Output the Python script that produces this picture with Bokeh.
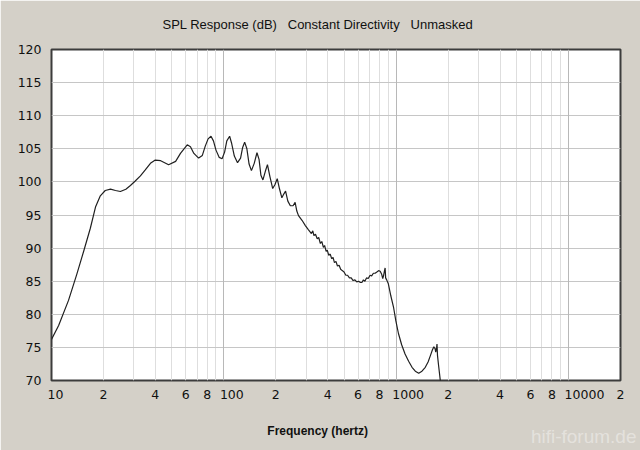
from bokeh.plotting import figure
from bokeh.models import Range1d, FixedTicker, Grid, Title
from bokeh.embed import file_html
from bokeh.resources import INLINE

# ---------------- data ----------------
freq_hz = [10, 11, 12.55, 14, 15.4, 16.8, 18.0, 19.2, 20.5, 22, 23.5, 25.1, 27,
           28.7, 30.5, 32.8, 35, 37.5, 40, 43, 47.8, 52.5, 56, 61.3, 64, 67,
           71.4, 75, 78, 81, 84.2, 87, 90, 94, 97.6, 101, 104, 108, 111, 115,
           120, 125, 128.5, 132, 136, 140, 144.5, 150, 155.6, 160, 164, 168.5,
           174, 179, 185, 192, 198, 204, 210, 217, 223, 228, 235, 243, 252,
           259, 265, 271, 284, 297, 309, 322, 328, 333, 340, 348, 355, 363,
           370, 378, 384, 392, 398, 406, 414, 422, 430, 438, 447, 456, 466,
           476, 486, 498, 510, 522, 535, 548, 562, 576, 590, 605, 620, 632,
           645, 658, 672, 688, 705, 720, 737, 754, 772, 790, 807, 822, 835,
           845, 855, 862, 868, 880, 900, 930, 964, 995, 1030, 1075, 1125,
           1180, 1235, 1290, 1350, 1410, 1474, 1530, 1580, 1620, 1653, 1680,
           1695, 1715, 1724, 1735, 1760, 1800, 1830]
spl_db = [76.2, 78.3, 82.1, 86.0, 89.6, 93.0, 96.2, 97.9, 98.7, 98.9, 98.7,
          98.55, 98.9, 99.45, 100.1, 100.9, 101.8, 102.8, 103.3, 103.2, 102.6,
          103.1, 104.3, 105.6, 105.3, 104.3, 103.6, 104.0, 105.4, 106.5, 106.9,
          106.2, 104.8, 103.7, 103.5, 104.5, 106.2, 106.9, 105.8, 103.9, 102.9,
          103.6, 105.2, 106.0, 105.0, 102.7, 101.7, 102.8, 104.4, 103.4, 101.0,
          100.3, 101.6, 102.6, 100.8, 99.0, 99.6, 100.5, 99.0, 97.6, 98.2,
          98.6, 97.1, 96.4, 96.4, 96.9, 95.6, 94.9, 94.2, 93.4, 92.8, 92.2,
          92.6, 91.9, 92.1, 91.4, 91.6, 90.7, 91.0, 90.1, 90.4, 89.5, 89.7,
          88.9, 89.1, 88.4, 88.6, 87.8, 88.0, 87.3, 87.4, 86.8, 86.6, 86.4,
          85.9, 85.9, 85.5, 85.5, 85.1, 85.2, 84.9, 85.0, 84.8, 84.8, 85.2,
          85.0, 85.5, 85.4, 85.9, 85.8, 86.2, 86.2, 86.4, 86.6, 86.5, 86.1,
          85.4, 85.9, 86.6, 87.0, 85.5, 85.2, 84.6, 82.8, 81.1, 79.0, 77.1,
          75.4, 74.0, 72.9, 72.0, 71.4, 71.1, 71.4, 72.0, 72.8, 73.8, 74.6,
          75.1, 74.8, 74.3, 75.0, 75.5, 73.8, 72.3, 70.1, 68.5]

x_tick_vals = [10, 20, 40, 60, 80, 100, 200, 400, 600, 800, 1000, 2000, 4000,
               6000, 8000, 10000, 20000]
x_tick_labels = ["10", "2", "4", "6", "8", "100", "2", "4", "6", "8", "1000",
                 "2", "4", "6", "8", "10000", "2"]
x_minor_grid = [20, 30, 40, 50, 60, 70, 80, 90, 200, 300, 400, 500, 600, 700,
                800, 900, 2000, 3000, 4000, 5000, 6000, 7000, 8000, 9000]
x_decade_grid = [100, 1000, 10000]
y_ticks = [70, 75, 80, 85, 90, 95, 100, 105, 110, 115, 120]
y_grid = [75, 80, 85, 90, 95, 100, 105, 110, 115]

title_text = "SPL Response (dB)\u00a0\u00a0\u00a0Constant Directivity\u00a0\u00a0\u00a0Unmasked"
x_label_text = "Frequency (hertz)"
watermark_text = "hifi-forum.de"

BG = "#d4d0c8"
NB = "\u00a0"

p = figure(width=640, height=450, x_axis_type="log",
           x_range=Range1d(10, 20000), y_range=Range1d(70, 120),
           output_backend="svg", toolbar_location=None,
           background_fill_color="white", border_fill_color=BG,
           min_border_left=51, min_border_right=20, min_border_top=49,
           min_border_bottom=70)

p.title.text = title_text
p.title.text_font = "Liberation Sans"
p.title.text_font_size = "13px"
p.title.text_font_style = "normal"
p.title.text_color = "#101010"
p.title.align = "left"
p.title.vertical_align = "top"
p.title.offset = 111
p.title.standoff = 31

p.outline_line_color = "#3c3c3c"
p.outline_line_width = 2
p.outline_line_alpha = 1.0

# x axis: left-shifted labels (label starts half a digit left of its tick)
overrides = {}
for v, t in zip(x_tick_vals, x_tick_labels):
    overrides[v] = NB * (2 * (len(t) - 1)) + t
p.xaxis.ticker = FixedTicker(ticks=x_tick_vals)
p.xaxis.major_label_overrides = overrides
p.xaxis.axis_line_color = None
p.xaxis.major_tick_line_color = None
p.xaxis.minor_tick_line_color = None
p.xaxis.major_tick_out = 0
p.xaxis.major_tick_in = 0
p.xaxis.major_label_standoff = 6
p.xaxis.major_label_text_font = "DejaVu Sans"
p.xaxis.major_label_text_font_size = "12.5px"
p.xaxis.major_label_text_color = "#101010"
p.xaxis.axis_label = x_label_text + NB * 11
p.xaxis.axis_label_text_font = "Liberation Sans"
p.xaxis.axis_label_text_font_size = "12px"
p.xaxis.axis_label_text_font_style = "bold"
p.xaxis.axis_label_text_color = "#101010"
p.xaxis.axis_label_standoff = 19

p.yaxis.ticker = FixedTicker(ticks=y_ticks)
p.yaxis.axis_line_color = None
p.yaxis.major_tick_line_color = None
p.yaxis.minor_tick_line_color = None
p.yaxis.major_tick_out = 0
p.yaxis.major_tick_in = 0
p.yaxis.major_label_standoff = 10
p.yaxis.major_label_text_font = "DejaVu Sans"
p.yaxis.major_label_text_font_size = "12.5px"
p.yaxis.major_label_text_color = "#101010"

# grids
p.xgrid.ticker = FixedTicker(ticks=x_minor_grid)
p.xgrid.grid_line_color = "#dedede"
p.xgrid.grid_line_width = 1
p.add_layout(Grid(dimension=0, ticker=FixedTicker(ticks=x_decade_grid),
                  grid_line_color="#b8b8b8", grid_line_width=1))
p.ygrid.ticker = FixedTicker(ticks=y_grid)
p.ygrid.grid_line_color = "#c6c6c6"
p.ygrid.grid_line_width = 1

p.line(freq_hz, spl_db, line_color="#202020", line_width=1.2)

# faint watermark at the bottom right
p.add_layout(Title(text=watermark_text, align="right", vertical_align="top",
                   offset=-16, standoff=-30, text_font="Liberation Sans",
                   text_font_size="19px", text_font_style="normal",
                   text_color="white", text_alpha=0.4), "below")

html = file_html(p, INLINE)
html = html.replace("<body>", '<body style="background:%s">' % BG, 1)
open("out.html", "w").write(html)
